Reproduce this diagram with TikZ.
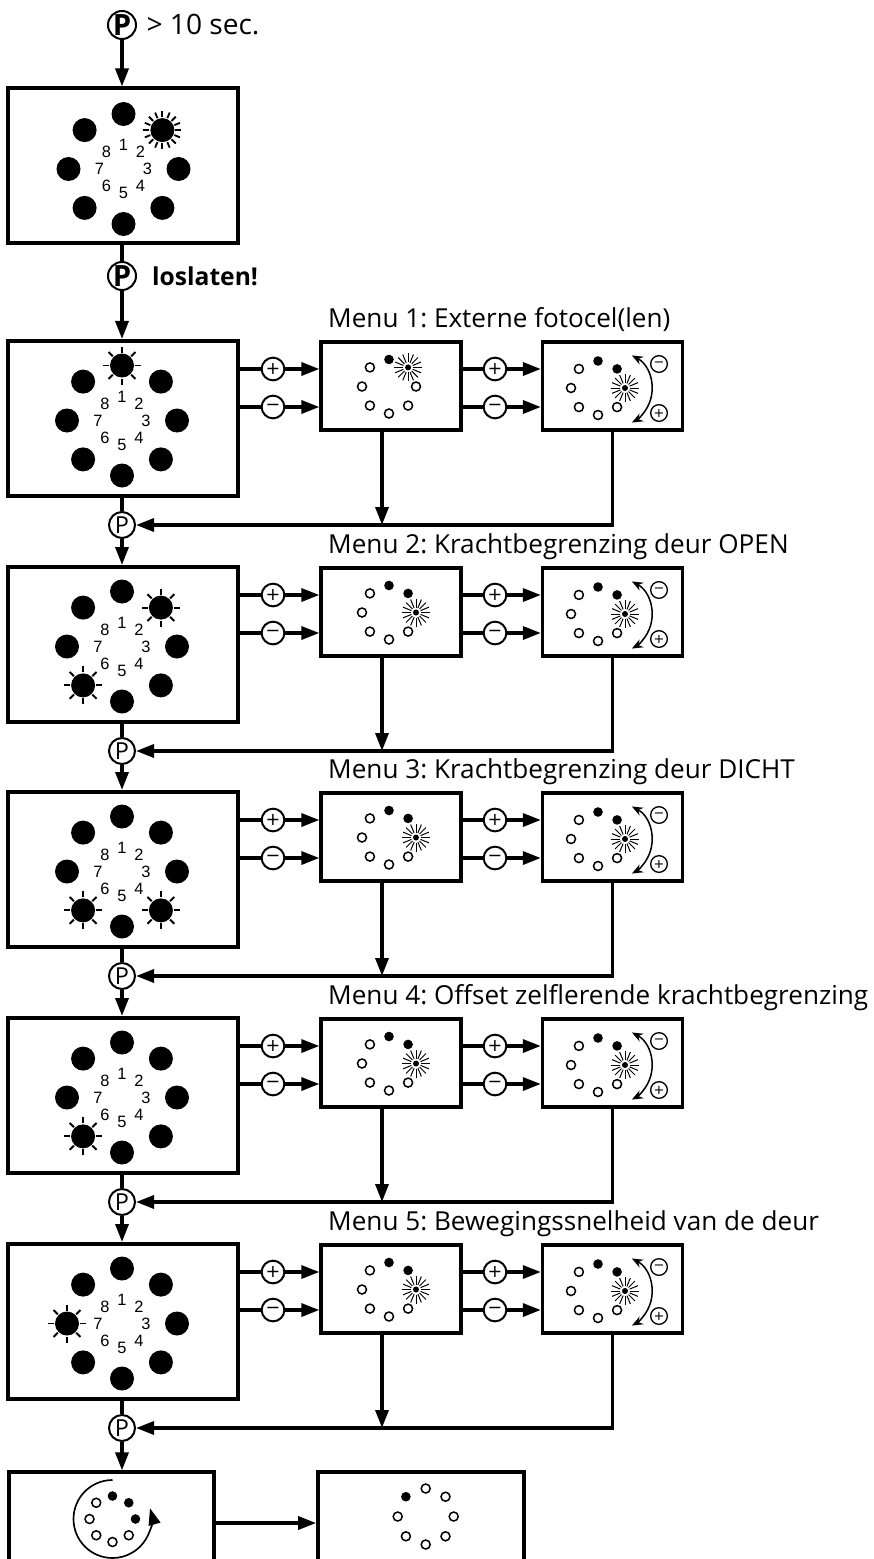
\documentclass[tikz,border=0pt]{standalone}
\usepackage{fontspec}
\setmainfont{Open Sans}
\newfontfamily\digitfont{Liberation Sans}
\newfontfamily\signfont{DejaVu Sans}
\usetikzlibrary{arrows.meta, positioning}
\frenchspacing

% ring of eight LEDs with their numbers
\newcommand{\bigleds}[2]{%
  \begin{scope}[shift={(#2)}]
    \foreach \n in {1,...,8}{
      \fill ({45*\n-135}:55) circle[radius=12];
      \node[digit] (#1-\n) at ({45*\n-135}:24) {\n};
    }
  \end{scope}}
% blinking LED: centre, position, ray step
\newcommand{\bigsun}[3]{%
  \begin{scope}[shift={(#1)}, shift={({45*#2-135}:55)}]
    \foreach \a in {0,#3,...,359}
      \draw[line width=0.55mm] (\a:13) -- (\a:19);
  \end{scope}}
% small ring: centre, radius, off, on
\newcommand{\smallleds}[4]{%
  \begin{scope}[shift={(#1)}]
    \foreach \n in {#3} \draw[line width=0.45mm] ({45*\n-135}:#2) circle[radius=4.5];
    \foreach \n in {#4} \fill ({45*\n-135}:#2) circle[radius=4.8];
  \end{scope}}
\newcommand{\smallsun}[3]{%
  \begin{scope}[shift={(#1)}, shift={({45*#3-135}:#2)}]
    \fill (0,0) circle[radius=3];
    \foreach \a in {0,22.5,...,359}
      \draw[line width=0.3mm] (\a:5) -- (\a:14);
  \end{scope}}

\tikzset{
  bigbox/.style={draw, line width=1.2mm, inner sep=0pt,
                 minimum width=68.7mm, minimum height=46.5mm},
  smallbox/.style={draw, line width=1mm, inner sep=0pt,
                   minimum width=42mm, minimum height=26.4mm},
  endbox/.style={draw, line width=1.2mm, inner sep=0pt,
                 minimum width=61.7mm, minimum height=35.8mm},
  key/.style={circle, draw, line width=0.6mm, inner sep=0pt,
              minimum size=6.8mm, font=\signfont\fontsize{15}{15}\selectfont},
  smallkey/.style={circle, draw, line width=0.4mm, inner sep=0pt,
                   minimum size=5mm, font=\signfont\fontsize{11}{11}\selectfont},
  pkey/.style={circle, draw, line width=0.6mm, inner sep=0pt,
               minimum size=7.8mm, font=\fontsize{20}{20}\selectfont},
  pbig/.style={circle, draw, line width=0.6mm, inner sep=0pt,
               minimum size=8.4mm, font=\fontsize{25}{25}\selectfont\bfseries},
  flow/.style={line width=1mm, -{Triangle[length=5.4mm, width=3.9mm]}},
  wire/.style={line width=1mm},
  turn/.style={line width=0.45mm,
               {Stealth[length=3.3mm, width=2.6mm]}-{Stealth[length=3.3mm, width=2.6mm]}},
  menulabel/.style={anchor=base west, inner sep=0pt,
                    font=\fontsize{22.3}{26}\selectfont},
  digit/.style={inner sep=0pt, font=\digitfont\fontsize{14}{14}\selectfont}
}

\begin{document}
\begin{tikzpicture}[x=0.3mm, y=-0.3mm]
  \useasboundingbox (0,0) rectangle (873,1559);
  \clip (0,0) rectangle (873,1559);

  % hold P
  \node[pbig] (PTOP) at (122,25) {P};
  \node[right=2.8mm of PTOP, inner sep=0pt, font=\fontsize{24}{24}\selectfont]
        (HOLD) {> 10 sec.};
  \node[bigbox] (START) at (123,166) {};
  \bigleds{START}{123.5,169}
  \bigsun{123.5,169}{2}{22.5}
  \draw[flow] (PTOP) -- (PTOP |- START.north);

  % release P
  \node[pbig] (P0) at (122,276) {P};
  \node[right=4.5mm of P0, inner sep=0pt, font=\fontsize{21}{21}\selectfont\bfseries]
        (RELEASE) {loslaten!};
  \draw[wire] (START.south -| P0) -- (P0);

  % menus
  \foreach \k/\T/\blink/\txt in {1/341/{1}/{Externe fotocel(len)},
      2/567/{2,6}/{Krachtbegrenzing deur OPEN},
      3/792/{4,6}/{Krachtbegrenzing deur DICHT},
      4/1018/{6}/{Offset zelflerende krachtbegrenzing},
      5/1244/{7}/{Bewegingssnelheid van de deur}}{
    \pgfmathtruncatemacro\j{\k-1}
    \node[menulabel] (L\k) at (328,{\T-14}) {Menu \k: \txt};
    \node[bigbox] (B\k) at (123,{\T+77.5}) {};
    \bigleds{B\k}{122,{\T+79.5}}
    \foreach \s in \blink {\bigsun{122,{\T+79.5}}{\s}{45}}
    \draw[flow] (P\j) -- (P\j |- B\k.north);

    \node[smallbox] (M\k) at (391,{\T+45}) {};
    \node[smallbox] (R\k) at (612.5,{\T+45}) {};
    \ifnum\k=1
      \smallleds{389,{\T+45.5}}{27}{3,...,8}{1}
      \smallsun{389,{\T+45.5}}{27}{2}
    \else
      \smallleds{389,{\T+45.5}}{27}{4,...,8}{1,2}
      \smallsun{389,{\T+45.5}}{27}{3}
    \fi
    \smallleds{598,{\T+47}}{27}{4,...,8}{1,2}
    \smallsun{598,{\T+47}}{27}{3}
    \draw[turn] (614,{\T+48}) ++(-62:38) arc[start angle=-62, end angle=62, radius=38];
    \node[smallkey] (RT\k) at (659,{\T+23}) {−};
    \node[smallkey] (RB\k) at (659,{\T+72}) {+};

    \node[key] (MP\k) at (273,{\T+28}) {+};
    \node[key] (MM\k) at (273,{\T+66}) {−};
    \node[key] (RP\k) at (495,{\T+28}) {+};
    \node[key] (RM\k) at (495,{\T+66}) {−};
    \draw[flow] (B\k.east |- MP\k) -- (MP\k) -- (M\k.west |- MP\k);
    \draw[flow] (B\k.east |- MM\k) -- (MM\k) -- (M\k.west |- MM\k);
    \draw[flow] (M\k.east |- RP\k) -- (RP\k) -- (R\k.west |- RP\k);
    \draw[flow] (M\k.east |- RM\k) -- (RM\k) -- (R\k.west |- RM\k);

    \node[pkey] (P\k) at (122,{\T+184}) {P};
    \draw[wire] (B\k.south -| P\k) -- (P\k);
    \draw[flow] ([xshift=-2.7mm]M\k.south) -- ([xshift=-2.7mm]M\k.south |- P\k);
    \draw[flow] (R\k.south) |- (P\k);
  }

  % leaving the menu
  \node[endbox] (RUN) at (111.6,1532) {};
  \node[endbox] (DONE) at (421,1532) {};
  \draw[flow] (P5) -- (P5 |- RUN.north);
  \draw[flow] ([yshift=2.7mm]RUN.east) -- ([yshift=2.7mm]DONE.west);
  \smallleds{112.5,1519}{23}{4,...,8}{1,2,3}
  \draw[line width=0.5mm, -{Triangle[length=5mm, width=3.6mm]}]
        (112.5,1519) ++(-90:39) arc[start angle=-90, end angle=-376, radius=39];
  \smallleds{425.7,1516.5}{28}{1,...,7}{8}
\end{tikzpicture}
\end{document}
